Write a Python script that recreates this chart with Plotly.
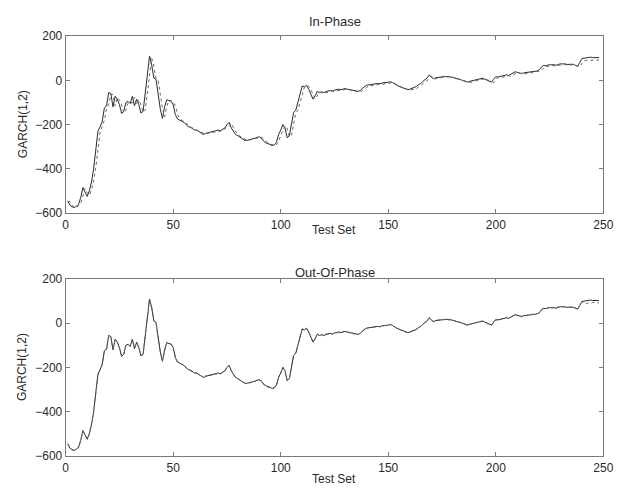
import plotly.graph_objects as go

# Test set index
test_set = list(range(1, 249))

# Actual series (solid line, same in both panels)
actual = [
    -545,-565,-572,-575,-570,-560,-530,-485,-505,-525,
    -500,-460,-400,-320,-230,-210,-185,-125,-115,-55,
    -60,-120,-72,-85,-110,-150,-140,-100,-95,-105,
    -72,-115,-85,-110,-148,-140,-60,30,110,70,
    10,5,-70,-130,-172,-120,-88,-90,-95,-110,
    -155,-175,-180,-185,-190,-200,-210,-212,-220,-225,
    -225,-232,-240,-245,-240,-238,-236,-234,-232,-228,
    -225,-228,-220,-215,-200,-190,-215,-232,-245,-250,
    -258,-265,-270,-272,-270,-268,-265,-262,-258,-255,
    -262,-275,-282,-288,-290,-295,-292,-280,-245,-225,
    -200,-215,-260,-250,-200,-145,-135,-100,-60,-25,
    -30,-22,-40,-60,-85,-70,-50,-55,-52,-55,
    -50,-48,-46,-48,-44,-42,-40,-42,-38,-37,
    -40,-42,-45,-46,-48,-50,-45,-35,-28,-22,
    -20,-20,-18,-16,-14,-15,-12,-10,-10,-8,
    -6,-10,-18,-22,-27,-30,-35,-38,-42,-40,
    -36,-35,-28,-20,-15,-5,2,10,24,15,
    7,12,14,16,18,17,18,17,16,14,
    10,8,6,2,-2,-6,-8,-4,-2,1,
    2,6,8,10,5,0,-4,-8,5,17,
    15,18,20,21,25,22,28,35,39,36,
    33,31,34,35,37,38,39,40,42,46,
    58,68,66,70,71,70,71,68,73,75,
    74,75,72,73,74,73,68,64,80,98,
    100,102,104,105,103,104,102,103,
]

# In-phase GARCH(1,2) forecast (dotted)
forecast_in = [
    -550,-548,-566,-573,-574,-568,-556,-525,-490,-508,
    -520,-495,-455,-395,-315,-235,-208,-180,-128,-110,
    -62,-65,-115,-78,-88,-112,-148,-135,-102,-97,
    -103,-76,-110,-88,-112,-145,-135,-55,25,100,
    65,8,0,-75,-128,-165,-118,-90,-92,-98,
    -115,-152,-172,-180,-186,-192,-202,-210,-214,-221,
    -226,-228,-234,-241,-244,-240,-238,-236,-234,-231,
    -228,-226,-227,-220,-212,-200,-194,-215,-233,-245,
    -252,-259,-266,-270,-271,-270,-267,-264,-261,-258,
    -257,-264,-276,-283,-288,-291,-294,-291,-278,-248,
    -226,-205,-218,-256,-248,-200,-148,-135,-102,-62,
    -30,-32,-26,-42,-62,-84,-70,-52,-56,-54,
    -56,-52,-50,-49,-50,-47,-45,-43,-44,-41,
    -40,-43,-45,-48,-49,-51,-52,-47,-38,-31,
    -26,-23,-23,-21,-19,-18,-19,-16,-14,-14,
    -12,-10,-14,-21,-25,-30,-33,-38,-41,-44,
    -42,-39,-38,-31,-24,-18,-9,-2,6,20,
    13,6,10,12,14,16,15,16,15,14,
    12,8,6,4,0,-4,-8,-10,-7,-4,
    -2,0,3,6,8,3,-2,-6,-10,2,
    13,12,15,17,18,21,19,24,31,35,
    32,30,28,30,32,34,35,36,37,39,
    43,54,63,62,66,67,66,67,65,69,
    71,70,71,69,70,71,70,65,61,75,
    88,90,91,92,93,91,92,92,
]

# Out-of-phase GARCH(1,2) forecast (dotted)
forecast_out = [
    -548,-562,-574,-573,-568,-562,-527,-488,-503,-522,
    -502,-458,-403,-318,-233,-208,-188,-122,-118,-57,
    -58,-117,-75,-83,-112,-147,-142,-98,-97,-103,
    -75,-112,-87,-108,-145,-142,-57,27,107,72,
    12,3,-67,-132,-170,-122,-86,-92,-93,-112,
    -152,-177,-178,-187,-188,-202,-208,-214,-218,-227,
    -223,-234,-238,-247,-238,-240,-234,-236,-230,-230,
    -223,-230,-218,-217,-198,-192,-213,-234,-243,-252,
    -256,-267,-268,-274,-268,-270,-263,-264,-256,-257,
    -260,-277,-280,-290,-288,-297,-290,-282,-243,-227,
    -198,-217,-258,-252,-198,-147,-133,-102,-58,-27,
    -28,-24,-38,-62,-83,-72,-48,-57,-50,-57,
    -48,-50,-44,-50,-42,-44,-38,-44,-36,-39,
    -38,-44,-43,-48,-46,-52,-43,-37,-26,-24,
    -18,-22,-16,-18,-12,-17,-10,-12,-8,-10,
    -4,-12,-16,-24,-25,-32,-33,-40,-40,-42,
    -34,-37,-26,-22,-13,-7,4,8,26,13,
    9,10,16,14,20,15,20,15,18,12,
    12,6,8,0,0,-8,-6,-6,0,-1,
    4,4,10,8,7,-2,-2,-10,7,15,
    17,16,22,19,27,20,30,33,41,34,
    35,29,36,33,39,36,41,38,44,44,
    60,66,68,68,73,68,73,66,75,73,
    76,73,74,71,76,71,70,62,78,96,
    95,88,92,90,94,93,95,92,
]

x_ticks = [0, 50, 100, 150, 200, 250]
y_ticks = [-600, -400, -200, 0, 200]
panel_titles = ["In-Phase", "Out-Of-Phase"]

W, H = 629, 494
FONT = "Liberation Sans, Arial, sans-serif"
TXT = "#2a2a2a"
FRAME = "#7a7a7a"

def py(p):
    return 1 - p / H

def px(p):
    return p / W

fig = go.Figure()

panels = [
    dict(top=30, bottom=212, fc=forecast_in, ax="", title_y=15, xlab_y=230),
    dict(top=280, bottom=462, fc=forecast_out, ax="2", title_y=273, xlab_y=486),
]

for i, p in enumerate(panels):
    xa = "x" + p["ax"]
    ya = "y" + p["ax"]
    fig.add_trace(go.Scatter(x=test_set, y=actual, mode="lines",
                             line=dict(color="#2b2b2b", width=1),
                             xaxis=xa, yaxis=ya, showlegend=False))
    fig.add_trace(go.Scatter(x=test_set, y=p["fc"], mode="lines",
                             line=dict(color="#666666", width=1, dash="dot"),
                             xaxis=xa, yaxis=ya, showlegend=False))
    axis_common = dict(showline=True, mirror="ticks", linecolor=FRAME, linewidth=1,
                       ticks="inside", ticklen=4, tickcolor=FRAME, showgrid=False,
                       zeroline=False, tickfont=dict(family=FONT, size=12, color=TXT))
    xkey = "xaxis" + p["ax"]
    ykey = "yaxis" + p["ax"]
    fig.layout[xkey] = dict(axis_common, range=[0, 250], tickvals=x_ticks,
                            domain=[px(64), px(613)], anchor=ya, ticklabelstandoff=1)
    fig.layout[ykey] = dict(axis_common, range=[-600, 200], tickvals=y_ticks,
                            domain=[py(p["bottom"]), py(p["top"])], anchor=xa)
    fig.add_annotation(text=panel_titles[i], x=px(338.5), y=py(p["title_y"]),
                       xref="paper", yref="paper", showarrow=False,
                       xanchor="center", yanchor="middle",
                       font=dict(family=FONT, size=13, color=TXT))
    fig.add_annotation(text="Test Set", x=px(338), y=py(p["xlab_y"]),
                       xref="paper", yref="paper", showarrow=False,
                       xanchor="center", yanchor="middle",
                       font=dict(family=FONT, size=12, color=TXT))
    fig.add_annotation(text="GARCH(1,2)", x=px(20), y=py((p["top"] + p["bottom"]) / 2),
                       xref="paper", yref="paper", showarrow=False, textangle=-90,
                       xanchor="center", yanchor="middle",
                       font=dict(family=FONT, size=12, color=TXT))

fig.update_layout(width=W, height=H, autosize=False,
                  margin=dict(l=0, r=0, t=0, b=0),
                  paper_bgcolor="white", plot_bgcolor="white")

fig.write_html("out.html",
               config={"displayModeBar": False},
               post_script="document.body.style.margin='0';document.body.style.overflow='hidden';")
